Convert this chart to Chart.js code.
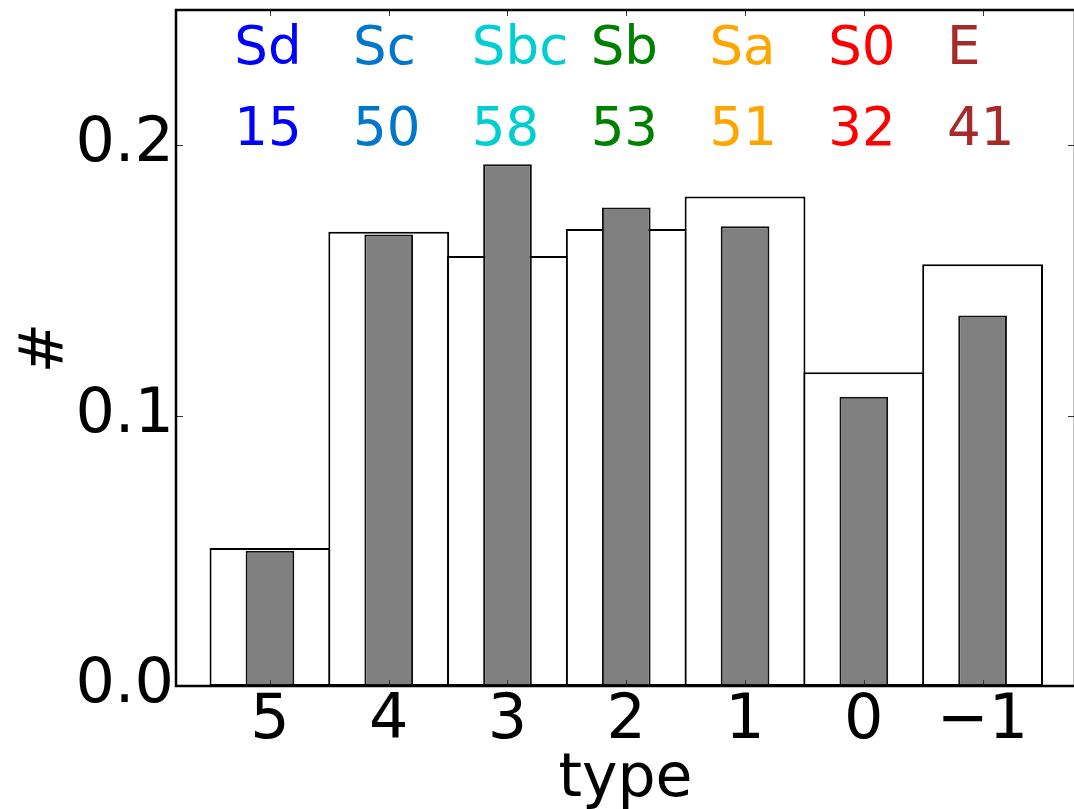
<!DOCTYPE html>
<html>
<head>
<meta charset="utf-8">
<script src="https://cdn.jsdelivr.net/npm/chart.js@4.4.1/dist/chart.umd.min.js"></script>
<style>
  html, body { margin: 0; padding: 0; background: #fff; overflow: hidden; }
  #wrap { width: 1074px; height: 809px; overflow: hidden; position: relative; }
  canvas { position: absolute; left: 0; top: 0; }
</style>
</head>
<body>
<div id="wrap"><canvas id="c" width="1078" height="809"></canvas></div>
<script>
// Morphological type index on the x axis (late types on the left)
const typeIndex = [5, 4, 3, 2, 1, 0, -1];
const tickLabels = ['5', '4', '3', '2', '1', '0', '\u22121'];

// Hubble type names and number of galaxies per type
const typeNames = ['Sd', 'Sc', 'Sbc', 'Sb', 'Sa', 'S0', 'E'];
const typeCounts = [15, 50, 58, 53, 51, 32, 41];
const typeColors = ['#0000ff', '#0077cc', '#00ced1', '#008000', '#ffa500', '#ff0000', '#a52a2a'];

// Parent-sample fraction per type (open bars)
const parentFrac = [0.051, 0.168, 0.159, 0.169, 0.181, 0.116, 0.156];
// Selected-sample fraction per type (grey bars)
const sampleFrac = [0.050, 0.167, 0.193, 0.177, 0.170, 0.107, 0.137];

// y ticks shown on the axis
const yTicks = [0.0, 0.1, 0.2];

const FONT = '"DejaVu Sans", sans-serif';

// Frame with inward ticks on all four sides, plus the type labels along the top
const framePlugin = {
  id: 'frame',
  afterDraw(chart) {
    const { ctx, chartArea: a, scales: { x, y } } = chart;
    ctx.save();
    // inward ticks
    ctx.strokeStyle = '#333';
    ctx.lineWidth = 1;
    ctx.beginPath();
    typeIndex.forEach(v => {
      const px = Math.round(x.getPixelForValue(v)) + 0.5;
      ctx.moveTo(px, a.bottom); ctx.lineTo(px, a.bottom - 6);
      ctx.moveTo(px, a.top); ctx.lineTo(px, a.top + 6);
    });
    yTicks.forEach(v => {
      const py = Math.round(y.getPixelForValue(v)) + 0.5;
      ctx.moveTo(a.left, py); ctx.lineTo(a.left + 7, py);
      ctx.moveTo(a.right, py); ctx.lineTo(a.right - 7, py);
    });
    ctx.stroke();
    // spines
    ctx.strokeStyle = '#000';
    ctx.lineWidth = 2.5;
    ctx.strokeRect(a.left, a.top, a.right - a.left, a.bottom - a.top);

    // type names and counts
    ctx.font = '53px ' + FONT;
    ctx.textAlign = 'left';
    ctx.textBaseline = 'alphabetic';
    typeIndex.forEach((v, i) => {
      const px = x.getPixelForValue(v + 0.3);
      ctx.fillStyle = typeColors[i];
      ctx.fillText(typeNames[i], px, y.getPixelForValue(0.23));
      ctx.fillText(String(typeCounts[i]), px, y.getPixelForValue(0.20));
    });
    ctx.restore();
  }
};

const toPoints = arr => typeIndex.map((t, i) => ({ x: t, y: arr[i] }));

const noPad = scale => {
  scale.paddingTop = 0; scale.paddingBottom = 0;
  scale.paddingLeft = 0; scale.paddingRight = 0;
};

new Chart(document.getElementById('c'), {
  type: 'bar',
  data: {
    datasets: [
      {
        label: 'parent',
        data: toPoints(parentFrac),
        backgroundColor: '#ffffff',
        borderColor: '#000000',
        borderWidth: 2,
        borderSkipped: false,
        grouped: false,
        categoryPercentage: 1.0,
        barPercentage: 1.017,
        order: 2
      },
      {
        label: 'sample',
        data: toPoints(sampleFrac),
        backgroundColor: '#808080',
        borderColor: '#111111',
        borderWidth: 2,
        borderSkipped: false,
        grouped: false,
        categoryPercentage: 1.0,
        barPercentage: 0.41,
        order: 1
      }
    ]
  },
  options: {
    responsive: false,
    animation: false,
    devicePixelRatio: 1,
    layout: { padding: { top: 10, right: 3, left: 0, bottom: 0 } },
    plugins: { legend: { display: false }, tooltip: { enabled: false } },
    scales: {
      x: {
        type: 'linear',
        reverse: true,
        offset: false,
        min: -1.778,
        max: 5.791,
        grid: { display: false, drawTicks: false, offset: false },
        border: { display: false },
        afterBuildTicks(scale) { scale.ticks = typeIndex.map(v => ({ value: v })); },
        afterFit(scale) { scale.height = 123; noPad(scale); },
        ticks: {
          autoSkip: false,
          maxRotation: 0,
          padding: -1,
          color: '#000',
          font: { family: FONT, size: 62 },
          callback: v => tickLabels[typeIndex.indexOf(v)]
        },
        title: {
          display: true,
          text: 'type',
          color: '#000',
          font: { family: FONT, size: 60 },
          padding: { top: 0, bottom: -7 }
        }
      },
      y: {
        type: 'linear',
        min: 0,
        max: 0.25,
        grid: { display: false, drawTicks: false },
        border: { display: false },
        afterBuildTicks(scale) { scale.ticks = yTicks.map(v => ({ value: v })); },
        afterFit(scale) { scale.width = 176; noPad(scale); },
        ticks: {
          padding: 2,
          color: '#000',
          font: { family: FONT, size: 62 },
          callback: v => v.toFixed(1)
        },
        title: {
          display: true,
          text: '#',
          color: '#000',
          font: { family: FONT, size: 60 },
          padding: { top: 10, bottom: 0 }
        }
      }
    }
  },
  plugins: [framePlugin]
});
</script>
</body>
</html>
